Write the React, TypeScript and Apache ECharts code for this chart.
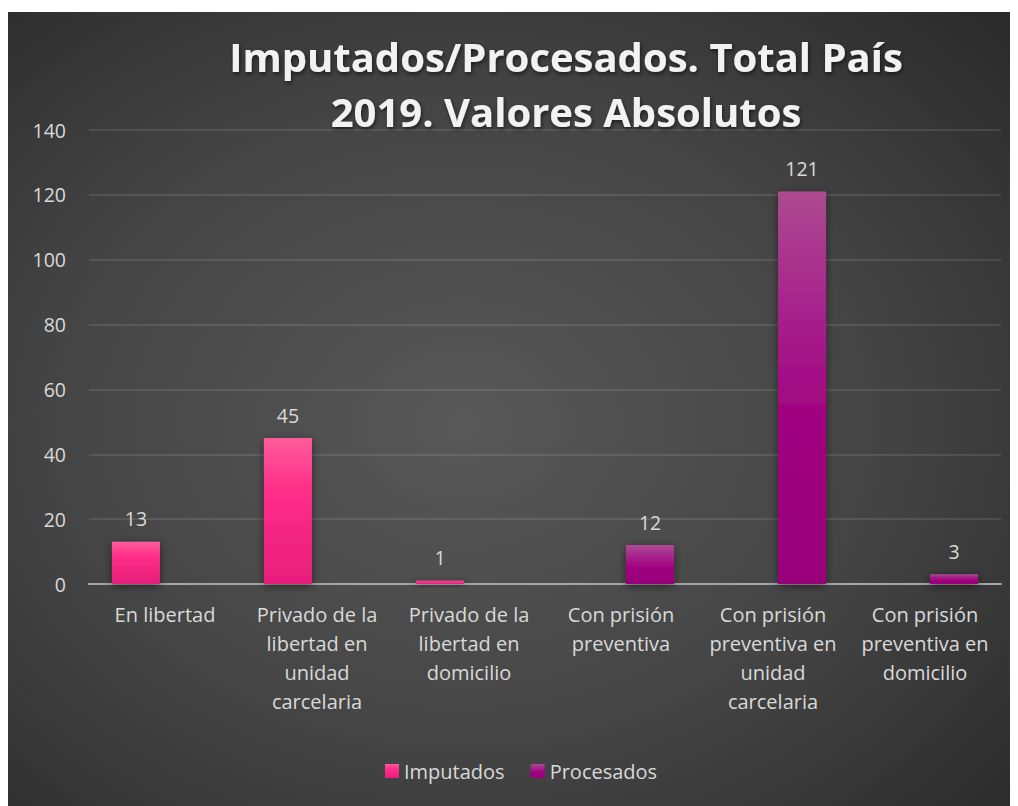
import React, { useEffect, useRef } from "react";
import * as echarts from "echarts";

const categories = [
  "En libertad",
  "Privado de la\nlibertad en\nunidad\ncarcelaria",
  "Privado de la\nlibertad en\ndomicilio",
  "Con prisión\npreventiva",
  "Con prisión\npreventiva en\nunidad\ncarcelaria",
  "Con prisión\npreventiva en\ndomicilio",
];
const imputados: (number | null)[] = [13, 45, 1, null, null, null];
const procesados: (number | null)[] = [null, null, null, 12, 121, 3];
const seriesNames = ["Imputados", "Procesados"];
const yTicks = { min: 0, max: 140, interval: 20 };
const titleText = "Imputados/Procesados. Total País\n2019. Valores Absolutos";

const FONT = "'Open Sans', 'Noto Sans', sans-serif";
const TXT = "#d9d9d9";

export default function App() {
  const ref = useRef<HTMLDivElement>(null);
  useEffect(() => {
    if (!ref.current) return;
    const chart = echarts.init(ref.current, undefined, { renderer: "svg" });
    const W = 1010;
    const H = 794;
    const pinkGrad = new echarts.graphic.LinearGradient(0, 0, 0, 1, [
      { offset: 0, color: "#ff5d9c" },
      { offset: 0.35, color: "#ff2e88" },
      { offset: 1, color: "#e61e7b" },
    ]);
    const purpleGrad = new echarts.graphic.LinearGradient(0, 0, 0, 1, [
      { offset: 0, color: "#ac4a91" },
      { offset: 0.35, color: "#a61c8a" },
      { offset: 0.6, color: "#a0007f" },
      { offset: 1, color: "#98007a" },
    ]);
    const barCommon = {
      type: "bar" as const,
      barWidth: 48,
      barGap: "21%",
      label: {
        show: true,
        position: "top" as const,
        distance: 13,
        color: TXT,
        fontSize: 19.5,
        fontFamily: FONT,
      },
    };
    chart.setOption({
      animation: false,
      graphic: [
        {
          type: "rect",
          z: -100,
          silent: true,
          shape: { x: 0, y: 0, width: W, height: H },
          style: {
            fill: new echarts.graphic.RadialGradient(0.45, 0.52, 0.75, [
              { offset: 0, color: "#585858" },
              { offset: 0.55, color: "#444444" },
              { offset: 1, color: "#2a2a2a" },
            ]),
          },
        },
      ],
      title: {
        text: titleText,
        left: 553,
        top: 12,
        textAlign: "center",
        textStyle: {
          color: "#f2f2f2",
          fontSize: 40,
          fontWeight: "bold",
          fontFamily: FONT,
          lineHeight: 55,
          textShadowColor: "rgba(0,0,0,0.6)",
          textShadowBlur: 4,
          textShadowOffsetX: 1,
          textShadowOffsetY: 2,
        },
      },
      legend: {
        data: seriesNames,
        left: 377,
        top: 749,
        padding: 0,
        itemWidth: 14,
        itemHeight: 14,
        itemGap: 26,
        icon: "rect",
        textStyle: { color: TXT, fontSize: 20, fontFamily: FONT },
      },
      grid: { left: 81, right: 17, top: 118, bottom: 222 },
      xAxis: {
        type: "category",
        data: categories,
        axisLine: { show: true, lineStyle: { color: "#a6a6a6", width: 2 } },
        axisTick: { show: false },
        axisLabel: {
          color: TXT,
          fontSize: 20,
          fontFamily: FONT,
          lineHeight: 29,
          margin: 16,
          interval: 0,
          align: "center",
        },
      },
      yAxis: {
        type: "value",
        min: yTicks.min,
        max: yTicks.max,
        interval: yTicks.interval,
        axisLine: { show: false },
        axisTick: { show: false },
        splitLine: { lineStyle: { color: "rgba(255,255,255,0.1)", width: 2 } },
        axisLabel: { color: TXT, fontSize: 19.5, fontFamily: FONT, margin: 23 },
      },
      series: [
        {
          ...barCommon,
          name: seriesNames[0],
          data: imputados,
          itemStyle: {
            color: pinkGrad,
            shadowColor: "rgba(0,0,0,0.5)",
            shadowBlur: 8,
            shadowOffsetY: 2,
          },
        },
        {
          ...barCommon,
          name: seriesNames[1],
          data: procesados,
          itemStyle: {
            color: purpleGrad,
            shadowColor: "rgba(0,0,0,0.5)",
            shadowBlur: 8,
            shadowOffsetY: 2,
          },
        },
      ],
    });
    return () => chart.dispose();
  }, []);
  return (
    <div
      ref={ref}
      style={{ width: 1010, height: 794, marginTop: 4 }}
    />
  );
}
